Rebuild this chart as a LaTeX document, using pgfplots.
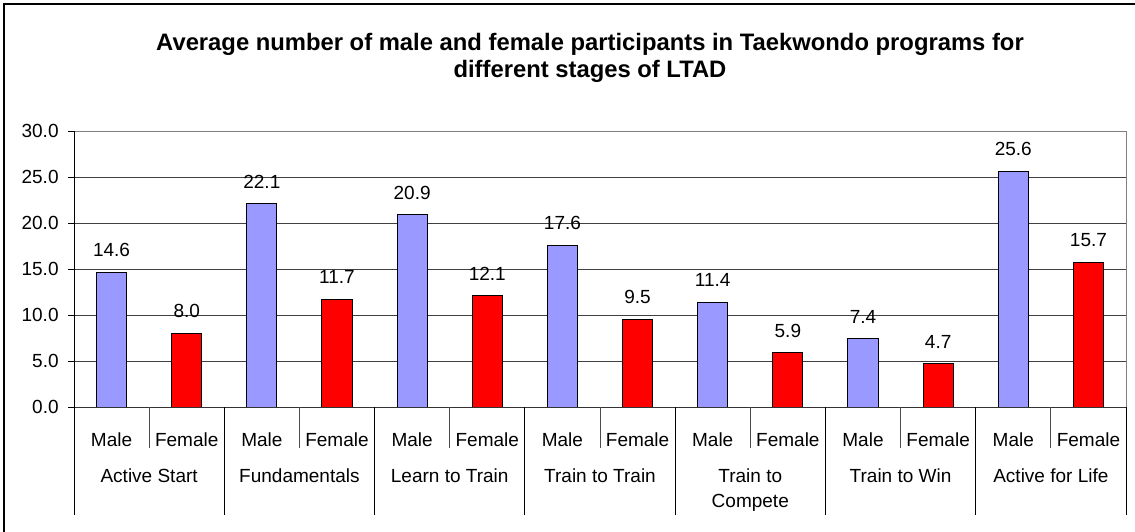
\documentclass[border=0pt]{standalone}
\usepackage{pgfplots}
\pgfplotsset{compat=1.18}
\usepackage{fontspec}
\setmainfont{Liberation Sans}
\definecolor{malebar}{HTML}{9999FF}
\definecolor{femalebar}{HTML}{FF0000}
\newcommand{\lblfont}{\fontsize{9.5}{11}\selectfont}
\begin{document}
\begin{tikzpicture}
\path[use as bounding box] (0,0) rectangle (567.5pt,265.5pt);
\draw[line width=1pt] (2pt,-20pt) rectangle (600pt,263.5pt);
\node[align=center, font=\fontsize{11.9}{13.5}\selectfont\bfseries] at (295pt,236.5pt)
  {Average number of male and female participants in Taekwondo programs for\\different stages of LTAD};
\begin{axis}[
  at={(37pt,62pt)}, anchor=south west,
  scale only axis, width=526pt, height=138pt,
  ybar, bar width=0.4, bar shift=0pt,
  xmin=-0.5, xmax=13.5, ymin=0, ymax=30,
  ytick={0,5,...,30},
  xtick={0,...,13},
  xticklabels={Male,Female,Male,Female,Male,Female,Male,Female,Male,Female,Male,Female,Male,Female},
  x tick style={draw=none},
  xticklabel style={anchor=base, yshift=-16.8pt, inner sep=0pt, font=\lblfont},
  ytick style={black, line width=0.5pt},
  tick pos=left, tick align=outside, major tick length=3pt,
  yticklabel style={inner sep=0pt, xshift=-4.5pt, font=\lblfont},
  /pgf/number format/assume math mode=true,
  yticklabel={\pgfmathprintnumber[fixed, fixed zerofill, precision=1]{\tick}},
  ymajorgrids, grid style={black!75, line width=0.5pt},
  axis line style={draw=black!50, line width=0.5pt},
  nodes near coords={\pgfmathprintnumber[fixed, fixed zerofill, precision=1]{\pgfplotspointmeta}},
  every node near coord/.append style={font=\lblfont, inner sep=0pt, yshift=7.5pt, black},
  clip=false,
]
\addplot[draw=black, fill=malebar, line width=0.5pt]
  coordinates {(0,14.6)(2,22.1)(4,20.9)(6,17.6)(8,11.4)(10,7.4)(12,25.6)};
\addplot[draw=black, fill=femalebar, line width=0.5pt]
  coordinates {(1,8.0)(3,11.7)(5,12.1)(7,9.5)(9,5.9)(11,4.7)(13,15.7)};
\draw[black, line width=0.5pt] (axis cs:-0.5,0) -- (axis cs:-0.5,30);
\draw[black!80, line width=0.5pt] (axis cs:-0.5,0) -- (axis cs:13.5,0);
\pgfplotsinvokeforeach{0.5,2.5,4.5,6.5,8.5,10.5,12.5}{
  \draw[black!70, line width=0.5pt] (axis cs:#1,0) -- ++(0pt,-20.5pt);
}
\pgfplotsinvokeforeach{-0.5,1.5,3.5,5.5,7.5,9.5,11.5,13.5}{
  \draw[black, line width=0.5pt] (axis cs:#1,0) -- ++(0pt,-54pt);
}
\node[anchor=base, font=\lblfont] at (axis cs:0.5,0) [yshift=-37.5pt] {Active Start};
\node[anchor=base, font=\lblfont] at (axis cs:2.5,0) [yshift=-37.5pt] {Fundamentals};
\node[anchor=base, font=\lblfont] at (axis cs:4.5,0) [yshift=-37.5pt] {Learn to Train};
\node[anchor=base, font=\lblfont] at (axis cs:6.5,0) [yshift=-37.5pt] {Train to Train};
\node[anchor=base, font=\lblfont] at (axis cs:8.5,0) [yshift=-37.5pt] {Train to};
\node[anchor=base, font=\lblfont] at (axis cs:8.5,0) [yshift=-50pt] {Compete};
\node[anchor=base, font=\lblfont] at (axis cs:10.5,0) [yshift=-37.5pt] {Train to Win};
\node[anchor=base, font=\lblfont] at (axis cs:12.5,0) [yshift=-37.5pt] {Active for Life};
\end{axis}
\end{tikzpicture}
\end{document}
